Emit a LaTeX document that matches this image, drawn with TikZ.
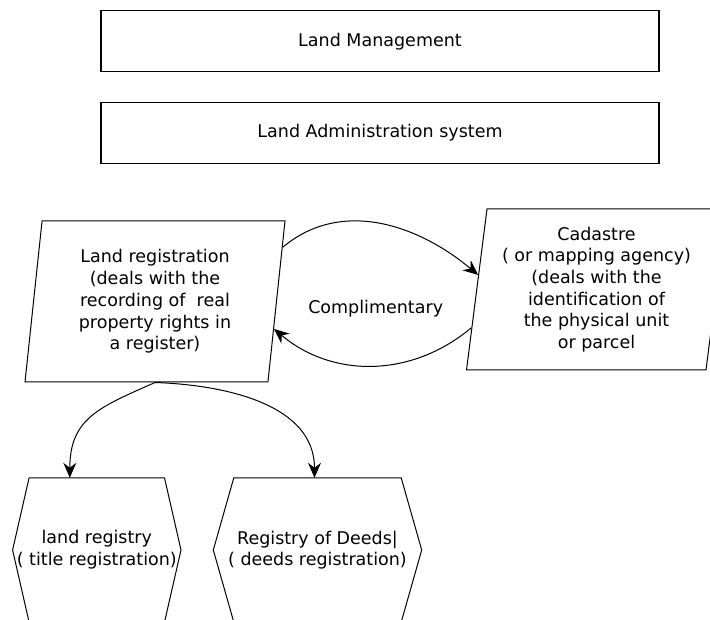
\documentclass[tikz,border=0pt]{standalone}
\usepackage{fontspec}
\setmainfont{DejaVu Sans}
\usetikzlibrary{arrows.meta,shapes.geometric}
\newcommand{\lafont}{\fontsize{17.5}{21.7}\selectfont}
\tikzset{
  band/.style={draw=black,line width=1.2pt,minimum width=558pt,minimum height=61pt,inner sep=0pt,font=\lafont},
  slant/.style={trapezium,trapezium left angle=81,trapezium right angle=99,trapezium stretches body,draw=black,line width=1pt,minimum width=260pt,minimum height=161pt,inner sep=2pt,align=center,font=\lafont},
  hexa/.style={rectangle,minimum height=144pt,inner ysep=0pt,inner xsep=-25pt,align=center,font=\lafont},
  rim/.style={draw=black,line width=1pt,line join=miter},
  tag/.style={inner sep=0pt,font=\lafont},
  link/.style={-{Stealth[length=15pt,width=13pt,inset=5pt]},line width=1pt}
}

\begin{document}
\begin{tikzpicture}[x=1pt,y=1pt]
\useasboundingbox (0,0) rectangle (710,620);
\node[band] (mgmt) at (380,578.8) {Land Management};
\node[band] (admin) at (380,487.3) {Land Administration system};
\node[slant] (landreg) at (155,318.5) {Land registration\\(deals with the\\recording of~ real\\property rights in\\a register)};
\node[slant] (cadastre) at (596.5,330.5) {Cadastre\\( or mapping agency)\\(deals with the\\identification of\\the physical unit\\or parcel};
\node[tag] (compl) at (375.7,311) {Complimentary};
\node[hexa,minimum width=135pt] (title) at (96.8,70) {land registry\\( title registration)};
\node[hexa,minimum width=167pt] (deeds) at (317.5,70) {Registry of Deeds|\\( deeds registration)};

\foreach \h/\d in {title/16.5pt,deeds/20.5pt}
  \draw[rim] (\h.north west) -- (\h.north east) -- ([xshift=\d]\h.east) -- (\h.south east)
    -- (\h.south west) -- ([xshift=-\d]\h.west) -- cycle;

\draw[link] (landreg.23) to[out=40,in=140] (cadastre.173.5);
\draw[link] (cadastre.197.5) to[out=220,in=-40] (landreg.347);
\draw[link] (landreg.south) to[out=204,in=90,looseness=1.2] ([xshift=-27pt]title.north);
\draw[link] (landreg.south) to[out=-2,in=90] ([xshift=-3pt]deeds.north);
\end{tikzpicture}
\end{document}
